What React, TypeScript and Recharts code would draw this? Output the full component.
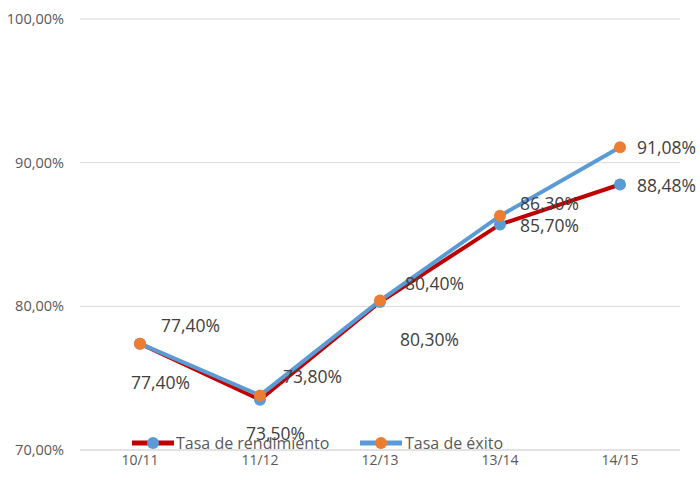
import { LineChart, Line, XAxis, YAxis, CartesianGrid, LabelList } from "recharts";

const categories = ["10/11", "11/12", "12/13", "13/14", "14/15"];
const rendimiento = [77.4, 73.5, 80.3, 85.7, 88.48];
const exito = [77.4, 73.8, 80.4, 86.3, 91.08];
const yTicks = [70, 80, 90, 100];

// label placement relative to each point (styling only)
const exitoOffsets = [
  [21, -19],
  [23, -19],
  [25, -18],
  [20, -13],
  [17, 0],
];
const rendOffsets = [
  [-9, 38],
  [-14, 33],
  [20, 37],
  [20, 1],
  [17, 0],
];

const data = categories.map((c, i) => ({
  name: c,
  rendimiento: rendimiento[i],
  exito: exito[i],
}));

const fmt = (v: number) => v.toFixed(2).replace(".", ",") + "%";
const FONT = "'Open Sans', sans-serif";

const makeLabel = (offsets: number[][]) => (props: any) => {
  const { x, y, value, index } = props;
  const [dx, dy] = offsets[index];
  return (
    <text
      x={x + dx}
      y={y + dy}
      dominantBaseline="central"
      textAnchor="start"
      fill="#404040"
      fontSize={17.5}
      fontFamily={FONT}
    >
      {fmt(value)}
    </text>
  );
};

const LegendOverlay = () => (
  <svg
    width={700}
    height={30}
    style={{ position: "absolute", left: 0, top: 428, pointerEvents: "none" }}
  >
    <line x1={132} y1={15} x2={174} y2={15} stroke="#C00000" strokeWidth={5} />
    <circle cx={153} cy={15} r={6} fill="#5B9BD5" />
    <text x={176} y={15} dominantBaseline="central" fill="#595959" fontSize={16} fontFamily={FONT}>
      Tasa de rendimiento
    </text>
    <line x1={360} y1={15} x2={402} y2={15} stroke="#5B9BD5" strokeWidth={5} />
    <circle cx={381} cy={15} r={6} fill="#ED7D31" />
    <text x={405} y={15} dominantBaseline="central" fill="#595959" fontSize={16} fontFamily={FONT}>
      Tasa de éxito
    </text>
  </svg>
);

export default function App() {
  return (
    <div style={{ position: "absolute", left: 0, top: 0, width: 700, height: 480, background: "#fff" }}>
      <LineChart
        width={700}
        height={480}
        data={data}
        margin={{ top: 19, right: 20, bottom: 0, left: 0 }}
      >
        <CartesianGrid vertical={false} stroke="#D9D9D9" />
        <XAxis
          dataKey="name"
          padding={{ left: 60, right: 60 }}
          axisLine={{ stroke: "#D9D9D9" }}
          tickLine={false}
          tickSize={0}
          tickMargin={5}
          height={30}
          tick={{ fill: "#595959", fontSize: 14, fontFamily: FONT }}
        />
        <YAxis
          domain={[70, 100]}
          ticks={yTicks}
          axisLine={false}
          tickLine={false}
          tickSize={0}
          tickMargin={16}
          width={80}
          tickFormatter={fmt}
          tick={{ fill: "#595959", fontSize: 14.5, fontFamily: FONT }}
        />
        <Line
          dataKey="rendimiento"
          stroke="#C00000"
          strokeWidth={4}
          dot={{ r: 6, fill: "#5B9BD5", stroke: "none" }}
          isAnimationActive={false}
        >
          <LabelList dataKey="rendimiento" content={makeLabel(rendOffsets)} />
        </Line>
        <Line
          dataKey="exito"
          stroke="#5B9BD5"
          strokeWidth={4}
          dot={{ r: 6, fill: "#ED7D31", stroke: "none" }}
          isAnimationActive={false}
        >
          <LabelList dataKey="exito" content={makeLabel(exitoOffsets)} />
        </Line>
      </LineChart>
      <LegendOverlay />
    </div>
  );
}
